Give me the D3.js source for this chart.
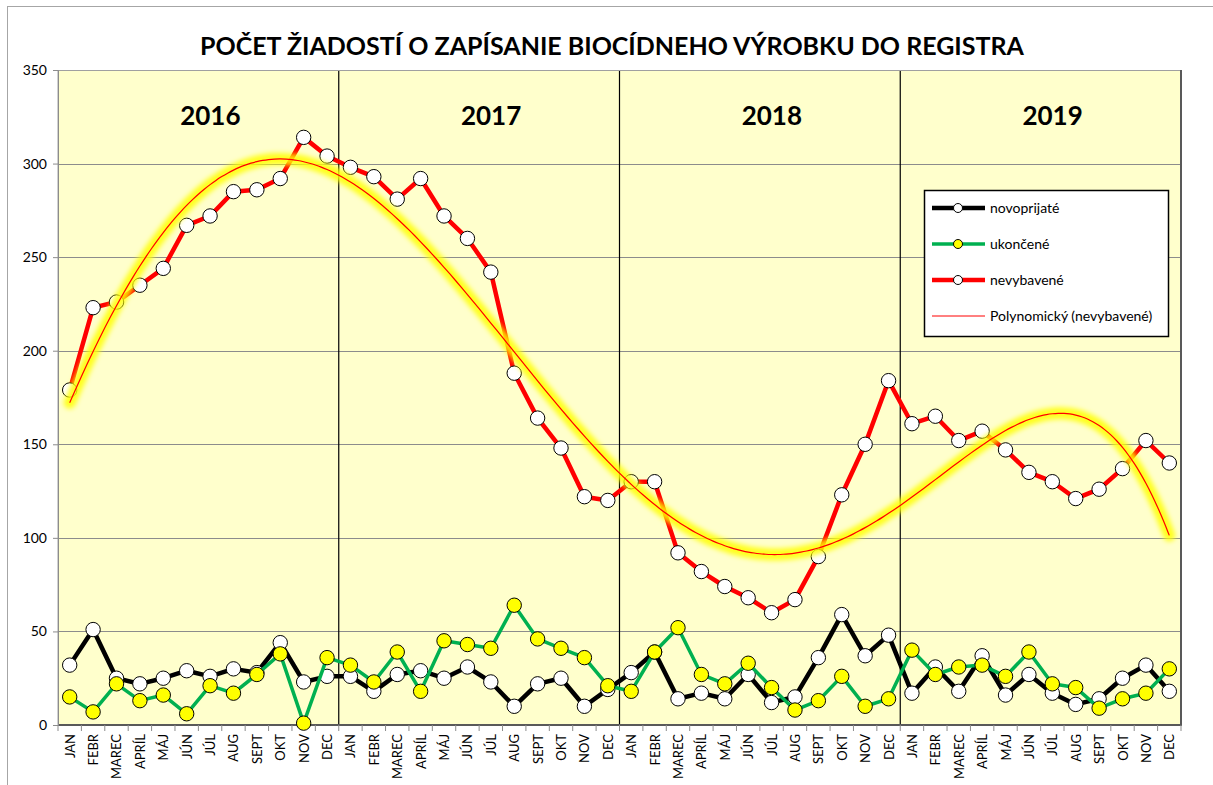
<!DOCTYPE html>
<html>
<head>
<meta charset="utf-8">
<script src="https://cdn.jsdelivr.net/npm/d3@7/dist/d3.min.js"></script>
<style>
  html, body { margin: 0; padding: 0; background: #fff; }
  svg { display: block; font-family: Lato, "Open Sans", sans-serif; }
</style>
</head>
<body>
<svg id="chart" width="1213" height="785"></svg>
<script>
// data
const YEARS = ["2016", "2017", "2018", "2019"];
const MONTHS = ["JAN", "FEBR", "MAREC", "APRÍL", "MÁJ", "JÚN", "JÚL", "AUG", "SEPT", "OKT", "NOV", "DEC"];
const Y_TICKS = [0, 50, 100, 150, 200, 250, 300, 350];

const novoprijate = [
  32, 51, 25, 22, 25, 29, 26, 30, 28, 44, 23, 26,
  26, 18, 27, 29, 25, 31, 23, 10, 22, 25, 10, 19,
  28, 39, 14, 17, 14, 27, 12, 15, 36, 59, 37, 48,
  17, 31, 18, 37, 16, 27, 17, 11, 14, 25, 32, 18
];
const ukoncene = [
  15, 7, 22, 13, 16, 6, 21, 17, 27, 38, 1, 36,
  32, 23, 39, 18, 45, 43, 41, 64, 46, 41, 36, 21,
  18, 39, 52, 27, 22, 33, 20, 8, 13, 26, 10, 14,
  40, 27, 31, 32, 26, 39, 22, 20, 9, 14, 17, 30
];
const nevybavene = [
  179, 223, 226, 235, 244, 267, 272, 285, 286, 292, 314, 304,
  298, 293, 281, 292, 272, 260, 242, 188, 164, 148, 122, 120,
  130, 130, 92, 82, 74, 68, 60, 67, 90, 123, 150, 184,
  161, 165, 152, 157, 147, 135, 130, 121, 126, 137, 152, 140
];

const SERIES = [
  {name: "nevybavené", values: nevybavene, color: "#ff0000", width: 4.5, dot: "#ffffff"},
  {name: "novoprijaté", values: novoprijate, color: "#000000", width: 4.5, dot: "#ffffff"},
  {name: "ukončené", values: ukoncene, color: "#00b050", width: 3.5, dot: "#ffff00"}
];
const LEGEND = [SERIES[1], SERIES[2], SERIES[0]];

// least squares polynomial (Excel "Polynomický" trend, order 5), x = 1..n
function polyfit(ys, deg) {
  const n = ys.length, s = v => v / n;
  const A = [], b = [];
  for (let r = 0; r <= deg; r++) {
    A.push(d3.range(deg + 1).map(c => d3.sum(ys, (_, i) => Math.pow(s(i + 1), r + c))));
    b.push(d3.sum(ys, (y, i) => y * Math.pow(s(i + 1), r)));
  }
  for (let c = 0; c <= deg; c++) {
    let p = c;
    for (let r = c + 1; r <= deg; r++) if (Math.abs(A[r][c]) > Math.abs(A[p][c])) p = r;
    [A[c], A[p]] = [A[p], A[c]]; [b[c], b[p]] = [b[p], b[c]];
    for (let r = 0; r <= deg; r++) {
      if (r === c) continue;
      const f = A[r][c] / A[c][c];
      for (let k = c; k <= deg; k++) A[r][k] -= f * A[c][k];
      b[r] -= f * b[c];
    }
  }
  const coef = b.map((v, i) => v / A[i][i]);
  return x => coef.reduce((acc, a, k) => acc + a * Math.pow(s(x), k), 0);
}

const svg = d3.select("#chart");
const L = 58, R = 1181, T = 70, B = 725;
const labels = YEARS.flatMap(() => MONTHS);
const idx = d3.range(labels.length);

const x = d3.scaleBand().domain(idx).range([L, R]);
const cx = i => x(i) + x.bandwidth() / 2;
const y = d3.scaleLinear().domain([0, 350]).range([B, T]);

// outer chart frame
svg.append("rect").attr("x", 7.5).attr("y", 6.5).attr("width", 1300).attr("height", 1000)
  .attr("fill", "#fff").attr("stroke", "#a6a6a6");

svg.append("text").attr("x", 612).attr("y", 55).attr("text-anchor", "middle")
  .attr("font-size", 25).attr("font-weight", 700).text("POČET ŽIADOSTÍ O ZAPÍSANIE BIOCÍDNEHO VÝROBKU DO REGISTRA");

// plot area
svg.append("rect").attr("x", L).attr("y", T).attr("width", R - L).attr("height", B - T)
  .attr("fill", "#ffffcc");

svg.append("g").selectAll("line").data(Y_TICKS.slice(1)).join("line")
  .attr("x1", L).attr("x2", R).attr("y1", d => Math.round(y(d)) + 0.5).attr("y2", d => Math.round(y(d)) + 0.5)
  .attr("stroke", "#8c8c8c").attr("stroke-width", 1);

// year dividers and year labels
svg.append("g").selectAll("line").data(YEARS.slice(1)).join("line")
  .attr("x1", (_, k) => x((k + 1) * 12)).attr("x2", (_, k) => x((k + 1) * 12))
  .attr("y1", T).attr("y2", B).attr("stroke", "#000").attr("stroke-width", 1.2);
svg.append("g").selectAll("text").data(YEARS).join("text")
  .attr("x", (_, k) => x(k * 12) + 6 * x.bandwidth() + 12).attr("y", 125)
  .attr("text-anchor", "middle").attr("font-size", 26).attr("font-weight", 700).text(d => d);

// plot border: light top/left, darker right/bottom
svg.append("path").attr("d", `M${L},${B}V${T + 0.5}H${R}`).attr("fill", "none").attr("stroke", "#a0a0a0");
svg.append("path").attr("d", `M${R},${T}V${B}H${L}`).attr("fill", "none").attr("stroke", "#595959").attr("stroke-width", 2);

// axes
const yAxis = svg.append("g").attr("transform", `translate(${L},0)`)
  .call(d3.axisLeft(y).tickValues(Y_TICKS).tickSize(5).tickPadding(6));
yAxis.selectAll("path, line").attr("stroke", "#8c8c8c");
yAxis.selectAll("text").attr("font-size", 14).attr("font-family", "Lato").attr("fill", "#000");

const xt = svg.append("g");
xt.selectAll("line").data(d3.range(labels.length + 1)).join("line")
  .attr("x1", i => L + i * x.step()).attr("x2", i => L + i * x.step())
  .attr("y1", B).attr("y2", B + 6).attr("stroke", "#8c8c8c");
xt.selectAll("text").data(idx).join("text")
  .attr("transform", i => `translate(${cx(i) + 5},${B + 9}) rotate(-90)`)
  .attr("text-anchor", "end").attr("font-size", 13).text(i => labels[i]);

// series
const line = d3.line().x((_, i) => cx(i)).y(d => y(d));
for (const s of SERIES) {
  const g = svg.append("g");
  g.append("path").attr("d", line(s.values)).attr("fill", "none")
    .attr("stroke", s.color).attr("stroke-width", s.width).attr("stroke-linejoin", "round");
  g.selectAll("circle").data(s.values).join("circle")
    .attr("cx", (_, i) => cx(i)).attr("cy", d => y(d)).attr("r", 7.2)
    .attr("fill", s.dot).attr("stroke", "#000").attr("stroke-width", 1);
}

// polynomial trend with yellow glow
const trend = polyfit(nevybavene, 5);
const tx = d3.range(1, labels.length + 0.001, 0.25);
const tline = d3.line().x(t => cx(0) + (t - 1) * x.step()).y(t => y(trend(t))).curve(d3.curveBasis);
const defs = svg.append("defs");
defs.append("filter").attr("id", "glow").attr("x", "-10%").attr("y", "-10%").attr("width", "120%").attr("height", "120%")
  .append("feGaussianBlur").attr("stdDeviation", 2.8);
svg.append("path").attr("d", tline(tx)).attr("fill", "none").attr("stroke", "#ffff00")
  .attr("stroke-width", 12).attr("stroke-opacity", 0.85).attr("stroke-linecap", "round").attr("filter", "url(#glow)");
svg.append("path").attr("d", tline(tx)).attr("fill", "none").attr("stroke", "#ff0000").attr("stroke-width", 1.2);

// legend
const lg = svg.append("g").attr("transform", "translate(924,190)");
lg.append("rect").attr("x", 0.5).attr("y", 0.5).attr("width", 244).attr("height", 146)
  .attr("fill", "#fff").attr("stroke", "#000").attr("stroke-width", 1.5);
LEGEND.forEach((s, k) => {
  const yy = 18 + k * 36;
  lg.append("line").attr("x1", 8).attr("x2", 61).attr("y1", yy).attr("y2", yy)
    .attr("stroke", s.color).attr("stroke-width", s.width);
  lg.append("circle").attr("cx", 34).attr("cy", yy).attr("r", 4.5)
    .attr("fill", s.dot).attr("stroke", "#000").attr("stroke-width", 1);
  lg.append("text").attr("x", 66).attr("y", yy + 5).attr("font-size", 14).text(s.name);
});
const yy = 18 + 3 * 36;
lg.append("line").attr("x1", 8).attr("x2", 61).attr("y1", yy).attr("y2", yy).attr("stroke", "#ff0000").attr("stroke-width", 1);
lg.append("text").attr("x", 66).attr("y", yy + 5).attr("font-size", 14).text("Polynomický (nevybavené)");
</script>
</body>
</html>
